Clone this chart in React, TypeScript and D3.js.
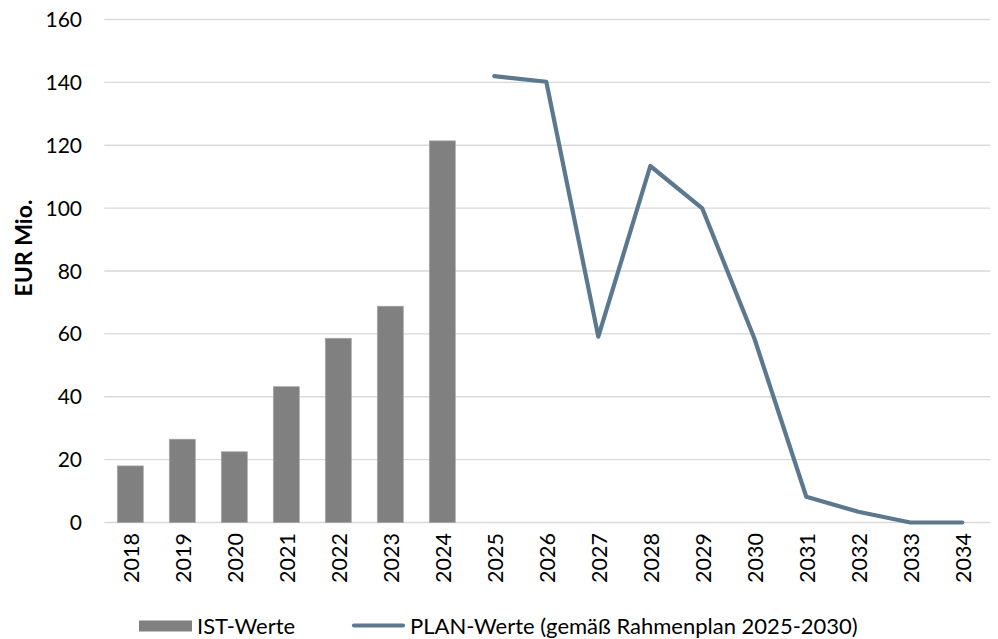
import React, { useEffect, useRef } from 'react'
import * as d3 from 'd3'

const years = ['2018', '2019', '2020', '2021', '2022', '2023', '2024', '2025', '2026', '2027', '2028', '2029', '2030', '2031', '2032', '2033', '2034']
const istYears = ['2018', '2019', '2020', '2021', '2022', '2023', '2024']
const istValues = [18, 26.5, 22.5, 43.2, 58.6, 68.8, 121.4]
const planYears = ['2025', '2026', '2027', '2028', '2029', '2030', '2031', '2032', '2033', '2034']
const planValues = [142, 140.2, 59.1, 113.4, 99.9, 58.6, 8.2, 3.4, 0, 0]
const yTicks = [0, 20, 40, 60, 80, 100, 120, 140, 160]

const W = 998
const H = 639
const FONT = 'Lato, "Open Sans", sans-serif'

const App = () => {
    const svgRef = useRef<SVGSVGElement>(null)

    useEffect(() => {
        const svg = d3.select(svgRef.current)
        svg.selectAll('*').remove()

        const left = 104.3, right = 988.3, top = 19.5, bottom = 522.5

        const x = d3.scalePoint<string>().domain(years).range([left, right]).padding(0.5)
        const step = x.step()
        const y = d3.scaleLinear().domain([0, 160]).range([bottom, top])

        // gridlines
        svg.append('g')
            .selectAll('line')
            .data(yTicks)
            .join('line')
            .attr('x1', left)
            .attr('x2', right + 2)
            .attr('y1', d => y(d))
            .attr('y2', d => y(d))
            .attr('stroke', '#d9d9d9')
            .attr('stroke-width', 1.3)

        // y labels
        svg.append('g')
            .selectAll('text')
            .data(yTicks)
            .join('text')
            .attr('x', 82)
            .attr('y', d => y(d))
            .attr('dy', '0.36em')
            .attr('text-anchor', 'end')
            .attr('font-family', FONT)
            .attr('font-size', 21)
            .attr('fill', '#000')
            .text(d => d)

        // axis title
        svg.append('text')
            .attr('transform', `translate(32,248) rotate(-90)`)
            .attr('text-anchor', 'middle')
            .attr('font-family', FONT)
            .attr('font-weight', 'bold')
            .attr('font-size', 23)
            .text('EUR Mio.')

        // bars
        const bw = step / 2
        svg.append('g')
            .selectAll('rect')
            .data(istValues)
            .join('rect')
            .attr('x', (d, i) => (x(istYears[i]) as number) - bw / 2)
            .attr('y', d => y(d))
            .attr('width', bw)
            .attr('height', d => y(0) - y(d))
            .attr('fill', '#808080')
            .attr('stroke', '#a6a6a6')
            .attr('stroke-width', 0.7)

        // plan line
        const line = d3.line<number>()
            .x((d, i) => x(planYears[i]) as number)
            .y(d => y(d))
        svg.append('path')
            .datum(planValues)
            .attr('d', line)
            .attr('fill', 'none')
            .attr('stroke', '#5b788e')
            .attr('stroke-width', 4.2)
            .attr('stroke-linecap', 'round')
            .attr('stroke-linejoin', 'round')

        // x labels
        svg.append('g')
            .selectAll('text')
            .data(years)
            .join('text')
            .attr('transform', d => `translate(${(x(d) as number) + 0.5},533) rotate(-90)`)
            .attr('dy', '0.36em')
            .attr('text-anchor', 'end')
            .attr('font-family', FONT)
            .attr('font-size', 21.5)
            .text(d => d)

        // legend
        const lg = svg.append('g')
        lg.append('rect')
            .attr('x', 139).attr('y', 620.5).attr('width', 53).attr('height', 11)
            .attr('fill', '#808080')
        lg.append('text')
            .attr('x', 197).attr('y', 626).attr('dy', '0.36em')
            .attr('font-family', FONT).attr('font-size', 22)
            .text('IST-Werte')
        lg.append('line')
            .attr('x1', 354).attr('x2', 403).attr('y1', 625.5).attr('y2', 625.5)
            .attr('stroke', '#5b788e').attr('stroke-width', 4.2).attr('stroke-linecap', 'round')
        lg.append('text')
            .attr('x', 410).attr('y', 626).attr('dy', '0.36em')
            .attr('font-family', FONT).attr('font-size', 22)
            .text('PLAN-Werte (gemäß Rahmenplan 2025-2030)')
    }, [])

    return (
        <div style={{ position: 'fixed', left: 0, top: 0, width: W, height: H, background: '#fff' }}>
            <svg ref={svgRef} width={W} height={H}></svg>
        </div>
    )
}

export default App
